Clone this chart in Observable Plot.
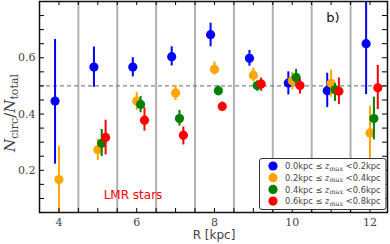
<!DOCTYPE html>
<html>
<head>
<meta charset="utf-8">
<script src="https://cdn.jsdelivr.net/npm/d3@7"></script>
<script src="https://cdn.jsdelivr.net/npm/@observablehq/plot@0.6"></script>
<style>
html,body{margin:0;padding:0;background:#fff;}
</style>
</head>
<body>
<div id="chart"></div>
<script>
// Radial bins (kpc)
const R = [4, 5, 6, 7, 8, 9, 10, 11, 12];
const seriesNames = ["0.0-0.2", "0.2-0.4", "0.4-0.6", "0.6-0.8"];
const seriesColors = ["#0000ff", "#ffa500", "#008000", "#ff0000"];
const seriesOffsets = [-0.1, 0, 0.1, 0.2];

// blue: 0.0 <= zmax < 0.2
const blueR = [4, 5, 6, 7, 8, 9, 10, 11, 12];
const blueVal = [0.446, 0.567, 0.567, 0.604, 0.682, 0.598, 0.510, 0.483, 0.650];
const blueLo = [0.222, 0.495, 0.532, 0.571, 0.639, 0.570, 0.468, 0.423, 0.469];
const blueHi = [0.665, 0.638, 0.600, 0.639, 0.723, 0.626, 0.550, 0.545, 0.850];

// orange: 0.2 <= zmax < 0.4
const orangeR = [4, 5, 6, 7, 8, 9, 10, 11, 12];
const orangeVal = [0.167, 0.273, 0.446, 0.475, 0.559, 0.538, 0.518, 0.509, 0.333];
const orangeLo = [0.030, 0.235, 0.413, 0.448, 0.539, 0.515, 0.486, 0.460, 0.200];
const orangeHi = [0.284, 0.310, 0.477, 0.501, 0.585, 0.563, 0.547, 0.556, 0.427];

// green: 0.4 <= zmax < 0.6
const greenR = [5, 6, 7, 8, 9, 10, 11, 12];
const greenVal = [0.296, 0.434, 0.384, 0.483, 0.501, 0.530, 0.486, 0.384];
const greenLo = [0.249, 0.404, 0.357, 0.465, 0.481, 0.497, 0.445, 0.308];
const greenHi = [0.345, 0.462, 0.413, 0.500, 0.518, 0.559, 0.508, 0.460];

// red: 0.6 <= zmax < 0.8
const redR = [5, 6, 7, 8, 9, 10, 11, 12];
const redVal = [0.317, 0.378, 0.325, 0.427, 0.507, 0.501, 0.481, 0.493];
const redLo = [0.255, 0.339, 0.290, 0.410, 0.481, 0.471, 0.434, 0.416];
const redHi = [0.378, 0.422, 0.354, 0.442, 0.528, 0.524, 0.528, 0.573];

const xTicks = [4, 6, 8, 10, 12];
const yTicks = [0.2, 0.4, 0.6];
const xMinor = d3.range(3.5, 12.01, 0.5);
const yMinor = d3.range(0.05, 0.801, 0.05);
const binEdges = [4.5, 5.5, 6.5, 7.5, 8.5, 9.5, 10.5, 11.5];
const refLine = [0.5];
const legendLo = ["0.0", "0.2", "0.4", "0.6"];
const legendHi = ["0.2", "0.4", "0.6", "0.8"];

const groups = [
  [blueR, blueVal, blueLo, blueHi],
  [orangeR, orangeVal, orangeLo, orangeHi],
  [greenR, greenVal, greenLo, greenHi],
  [redR, redVal, redLo, redHi]
];
const rows = [];
groups.forEach(([rr, v, lo, hi], s) => {
  rr.forEach((r, i) => rows.push({series: seriesNames[s], s, x: r + seriesOffsets[s], y: v[i], lo: lo[i], hi: hi[i]}));
});

const W = 390, H = 244, mL = 39, mR = 3, mT = 1, mB = 32;
const innerH = H - mT - mB, innerW = W - mL - mR;

const marks = [
  Plot.ruleX(binEdges, {x: d => d, stroke: "#b0b0b0", strokeWidth: 2}),
  Plot.ruleY(refLine, {y: d => d, stroke: "#666", strokeWidth: 1, strokeDasharray: "4,3"})
];
for (let s = 0; s < 4; s++) {
  const sub = rows.filter(d => d.s === s);
  marks.push(Plot.ruleX(sub, {x: "x", y1: "lo", y2: "hi", stroke: seriesColors[s], strokeWidth: 2, clip: true}));
  marks.push(Plot.dot(sub, {x: "x", y: "y", r: 4.6, fill: seriesColors[s], stroke: "none", clip: true}));
}
marks.push(
  Plot.tickX(xMinor, {x: d => d, insetTop: innerH - 4, stroke: "#000", strokeWidth: 1}),
  Plot.tickX(xMinor, {x: d => d, insetBottom: innerH - 4, stroke: "#000", strokeWidth: 1}),
  Plot.tickY(yMinor, {y: d => d, insetRight: innerW - 5, stroke: "#000", strokeWidth: 1}),
  Plot.tickY(yMinor, {y: d => d, insetLeft: innerW - 5, stroke: "#000", strokeWidth: 1}),
  Plot.axisX({ticks: xTicks, tickSize: 0, tickPadding: 6, label: null, fontSize: 11, fontFamily: "DejaVu Serif", color: "#444", tickFormat: d => String(d)}),
  Plot.axisY({ticks: yTicks, tickSize: 0, tickPadding: 4, label: null, fontSize: 11, fontFamily: "DejaVu Serif", color: "#444", tickFormat: d => d.toFixed(1)}),
  Plot.frame({stroke: "#111", strokeWidth: 1.5})
);

const chart = Plot.plot({
  width: W, height: H,
  marginLeft: mL, marginRight: mR, marginTop: mT, marginBottom: mB,
  x: {domain: [3.5, 12.45]},
  y: {domain: [0.05, 0.8]},
  style: {background: "#fff", overflow: "visible"},
  marks
});
document.getElementById("chart").appendChild(chart);

const svg = d3.select(chart);
// y label
const yl = svg.append("text")
  .attr("transform", "translate(15,113) rotate(-90)")
  .attr("text-anchor", "middle")
  .attr("font-family", "DejaVu Serif")
  .attr("font-size", 15)
  .style("fill", "#444");
yl.append("tspan").attr("font-style", "italic").text("N");
yl.append("tspan").attr("font-size", 11).attr("dy", 3).text("circ");
yl.append("tspan").attr("dy", -3).text("/");
yl.append("tspan").attr("font-style", "italic").text("N");
yl.append("tspan").attr("font-size", 11).attr("dy", 3).text("total");

// x label
svg.append("text").attr("x", 214).attr("y", 239).attr("text-anchor", "middle")
  .attr("font-family", "DejaVu Sans").attr("font-size", 12).style("fill", "#444").text("R [kpc]");

// annotations
svg.append("text").attr("x", 133).attr("y", 199).attr("text-anchor", "middle")
  .attr("font-family", "DejaVu Sans").attr("font-size", 12).style("fill", "#ff0000").text("LMR stars");
svg.append("text").attr("x", 333).attr("y", 22).attr("text-anchor", "middle")
  .attr("font-family", "DejaVu Sans").attr("font-size", 13).style("fill", "#111").text("b)");

// legend
const lg = svg.append("g").attr("text-anchor", "start");
lg.append("path")
  .attr("d", "M262,158.5 H383.5 Q386,158.5 386,161 V207 Q386,209.5 383.5,209.5 H262 Q259.5,209.5 259.5,207 V161 Q259.5,158.5 262,158.5 Z")
  .style("fill", "#ffffff").style("stroke", "#333").style("stroke-width", "1px");
legendLo.forEach((lo, i) => {
  const yy = 166 + i * 11.7;
  lg.append("circle").attr("cx", 273).attr("cy", yy).attr("r", 4.6).style("fill", seriesColors[i]);
  const t = lg.append("text").attr("x", 285).attr("y", yy + 3.2).attr("text-anchor", "start")
    .attr("font-family", "DejaVu Sans").attr("font-size", 8.3).style("fill", "#444");
  t.append("tspan").text(lo + "kpc \u2264 ");
  t.append("tspan").attr("font-family", "DejaVu Serif").attr("font-style", "italic").text("z");
  t.append("tspan").attr("font-family", "DejaVu Serif").attr("font-size", 6.5).attr("dy", 1.5).text("max");
  t.append("tspan").attr("dy", -1.5).text(" <" + legendHi[i] + "kpc");
});
</script>
</body>
</html>
